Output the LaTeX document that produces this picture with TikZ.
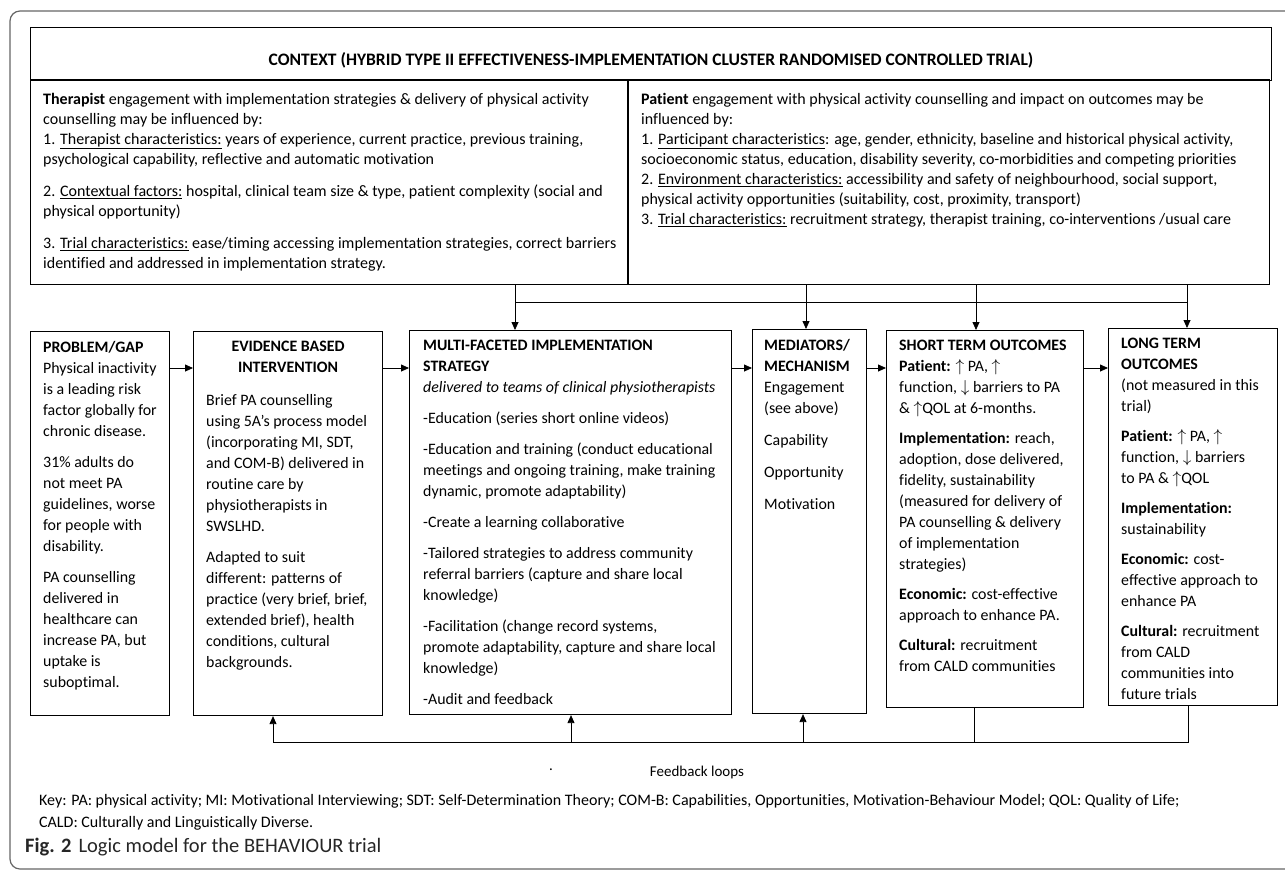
\documentclass[tikz,border=0pt]{standalone}
\usepackage{fontspec}
\setmainfont{Carlito}[Ligatures={NoCommon}]
\usetikzlibrary{arrows.meta}

\begin{document}
\begin{tikzpicture}[
    x=1pt, y=-1pt,
    font=\fontsize{15}{20}\selectfont,
    panel/.style={draw, line width=1.1pt, inner sep=0pt, anchor=north west},
    paneltext/.style={inner sep=0pt, anchor=north west, align=left,
                      font=\fontsize{15.9}{21}\selectfont},
    ctxtext/.style={inner sep=0pt, anchor=north west, align=left,
                    font=\fontsize{16}{20}\selectfont},
    flow/.style={-{Triangle[length=8pt,width=7pt]}, line width=0.8pt},
    tie/.style={line width=0.8pt}
  ]
    \useasboundingbox (0,0) rectangle (1285,871);
    \clip (0,0) rectangle (1285,871);
    \draw[black!60, line width=1.2pt, rounded corners=10pt] (10,11) rectangle (1320,869);

    % context
    \node[panel, line width=0.9pt, minimum width=1241pt, minimum height=53pt] (ctx) at (30,27) {};
    \node[font=\bfseries\fontsize{17.5}{20}\selectfont] (ctxTitle) at ([shift={(0,6)}]ctx.center)
      {CONTEXT (HYBRID TYPE II EFFECTIVENESS-IMPLEMENTATION CLUSTER RANDOMISED CONTROLLED TRIAL)};
    \node[panel, minimum width=598pt, minimum height=204pt] (ther) at (30,80) {};
    \node[panel, minimum width=641pt, minimum height=204pt] (pat) at (628,80) {};
    \draw[line width=2.2pt] (ther.north west) -- (pat.north east);
    \draw[line width=2.2pt] (pat.north west) -- (pat.south west);
    \node[ctxtext] (therText) at ([shift={(13,13)}]ther.north west)
      {\textbf{Therapist} engagement with implementation strategies \& delivery of physical activity\\
       counselling may be influenced by:\\
       1. \underline{Therapist characteristics:} years of experience, current practice, previous training,\\
       psychological capability, reflective and automatic motivation\\[12pt]
       2. \underline{Contextual factors:} hospital, clinical team size \& type, patient complexity (social and\\
       physical opportunity)\\[12pt]
       3. \underline{Trial characteristics:} ease/timing accessing implementation strategies, correct barriers\\
       identified and addressed in implementation strategy.};
    \node[ctxtext] (patText) at ([shift={(13,13)}]pat.north west)
      {\textbf{Patient} engagement with physical activity counselling and impact on outcomes may be\\
       influenced by:\\
       1. \underline{Participant characteristics}: age, gender, ethnicity, baseline and historical physical activity,\\
       socioeconomic status, education, disability severity, co-morbidities and competing priorities\\
       2. \underline{Environment characteristics:} accessibility and safety of neighbourhood, social support,\\
       physical activity opportunities (suitability, cost, proximity, transport)\\
       3. \underline{Trial characteristics:} recruitment strategy, therapist training, co-interventions /usual care};

    % logic model row
    \node[panel, minimum width=139pt, minimum height=384pt] (gap) at (30,331) {};
    \node[panel, minimum width=189pt, minimum height=384pt] (ebi) at (193,331) {};
    \node[panel, minimum width=322pt, minimum height=384pt] (mfis) at (409,330) {};
    \node[panel, minimum width=114pt, minimum height=384pt] (med) at (752,329) {};
    \node[panel, minimum width=197pt, minimum height=377pt] (sto) at (886,330) {};
    \node[panel, minimum width=169pt, minimum height=377pt] (lto) at (1108,328) {};

    \node[paneltext] (gapText) at ([shift={(13,10)}]gap.north west)
      {\textbf{PROBLEM/GAP}\\
       Physical inactivity\\
       is a leading risk\\
       factor globally for\\
       chronic disease.\\[10pt]
       31\% adults do\\
       not meet PA\\
       guidelines, worse\\
       for people with\\
       disability.\\[10pt]
       PA counselling\\
       delivered in\\
       healthcare can\\
       increase PA, but\\
       uptake is\\
       suboptimal.};
    \node[paneltext, anchor=north, align=center, font=\bfseries\fontsize{15.9}{21}\selectfont]
      (ebiHead) at ([shift={(0,10)}]ebi.north) {EVIDENCE BASED\\INTERVENTION};
    \node[paneltext] (ebiText) at ([shift={(13,63)}]ebi.north west)
      {Brief PA counselling\\
       using 5A’s process model\\
       (incorporating MI, SDT,\\
       and COM-B) delivered in\\
       routine care by\\
       physiotherapists in\\
       SWSLHD.\\[10pt]
       Adapted to suit\\
       different: patterns of\\
       practice (very brief, brief,\\
       extended brief), health\\
       conditions, cultural\\
       backgrounds.};
    \node[paneltext] (mfisText) at ([shift={(14,10)}]mfis.north west)
      {\textbf{MULTI-FACETED IMPLEMENTATION}\\
       \textbf{STRATEGY}\\
       \textit{delivered to teams of clinical physiotherapists}\\[10pt]
       -Education (series short online videos)\\[10pt]
       -Education and training (conduct educational\\
       meetings and ongoing training, make training\\
       dynamic, promote adaptability)\\[10pt]
       -Create a learning collaborative\\[10pt]
       -Tailored strategies to address community\\
       referral barriers (capture and share local\\
       knowledge)\\[10pt]
       -Facilitation (change record systems,\\
       promote adaptability, capture and share local\\
       knowledge)\\[10pt]
       -Audit and feedback};
    \node[paneltext] (medText) at ([shift={(12,10)}]med.north west)
      {\textbf{MEDIATORS/}\\
       \textbf{MECHANISM}\\
       Engagement\\
       (see above)\\[11pt]
       Capability\\[11pt]
       Opportunity\\[11pt]
       Motivation};
    \node[paneltext] (stoText) at ([shift={(13,10)}]sto.north west)
      {\textbf{SHORT TERM OUTCOMES}\\
       \textbf{Patient:} $\uparrow$ PA, $\uparrow$\\
       function, $\downarrow$ barriers to PA\\
       \& $\uparrow$QOL at 6-months.\\[9pt]
       \textbf{Implementation:} reach,\\
       adoption, dose delivered,\\
       fidelity, sustainability\\
       (measured for delivery of\\
       PA counselling \& delivery\\
       of implementation\\
       strategies)\\[9pt]
       \textbf{Economic:} cost-effective\\
       approach to enhance PA.\\[9pt]
       \textbf{Cultural:} recruitment\\
       from CALD communities};
    \node[paneltext] (ltoText) at ([shift={(13,10)}]lto.north west)
      {\textbf{LONG TERM}\\
       \textbf{OUTCOMES}\\
       (not measured in this\\
       trial)\\[9pt]
       \textbf{Patient:} $\uparrow$ PA, $\uparrow$\\
       function, $\downarrow$ barriers\\
       to PA \& $\uparrow$QOL\\[9pt]
       \textbf{Implementation:}\\
       sustainability\\[9pt]
       \textbf{Economic:} cost-\\
       effective approach to\\
       enhance PA\\[9pt]
       \textbf{Cultural:} recruitment\\
       from CALD\\
       communities into\\
       future trials};

    % arrows along the row
    \coordinate (row) at (0,368);
    \draw[flow] (gap.east |- row) -- (ebi.west |- row);
    \draw[flow] (ebi.east |- row) -- (mfis.west |- row);
    \draw[flow] (mfis.east |- row) -- (med.west |- row);
    \draw[flow] (med.east |- row) -- (sto.west |- row);
    \draw[flow] (sto.east |- row) -- (lto.west |- row);

    % context feeds down
    \coordinate (tapMfis) at (515,302);
    \coordinate (tapMed) at (806,302);
    \coordinate (tapSto) at (976,302);
    \coordinate (tapLto) at (1187,302);
    \draw[tie] (tapMfis) -- (tapLto);
    \draw[flow] (tapMfis |- ther.south) -- (tapMfis |- mfis.north);
    \draw[flow] (tapMed |- pat.south) -- (tapMed |- med.north);
    \draw[flow] (tapSto |- pat.south) -- (tapSto |- sto.north);
    \draw[flow] (tapLto |- pat.south) -- (tapLto |- lto.north);

    % feedback loops
    \coordinate (fbEbi) at (273,742);
    \coordinate (fbMfis) at (571,742);
    \coordinate (fbMed) at (803,742);
    \coordinate (fbSto) at (974,742);
    \coordinate (fbLto) at (1188,742);
    \draw[tie] (fbLto |- lto.south) -- (fbLto) -- (fbEbi);
    \draw[tie] (fbSto |- sto.south) -- (fbSto);
    \draw[flow] (fbEbi) -- (fbEbi |- ebi.south);
    \draw[flow] (fbMfis) -- (fbMfis |- mfis.south);
    \draw[flow] (fbMed) -- (fbMed |- med.south);
    \node (dot) at (551,770) {.};
    \node (fbLabel) at (697,772) {Feedback loops};

    \node[inner sep=0pt, anchor=north west, align=left, font=\fontsize{16}{22}\selectfont] (key) at (39,794)
      {Key: PA: physical activity; MI: Motivational Interviewing; SDT: Self-Determination Theory; COM-B: Capabilities, Opportunities, Motivation-Behaviour Model; QOL: Quality of Life;\\
       CALD: Culturally and Linguistically Diverse.};
    \node[inner sep=0pt, anchor=west, font=\fontsize{20.5}{22}\selectfont, text=black!85] (caption) at (25,847)
      {\textbf{Fig. 2}\hspace{0.35em}Logic model for the BEHAVIOUR trial};
\end{tikzpicture}
\end{document}
